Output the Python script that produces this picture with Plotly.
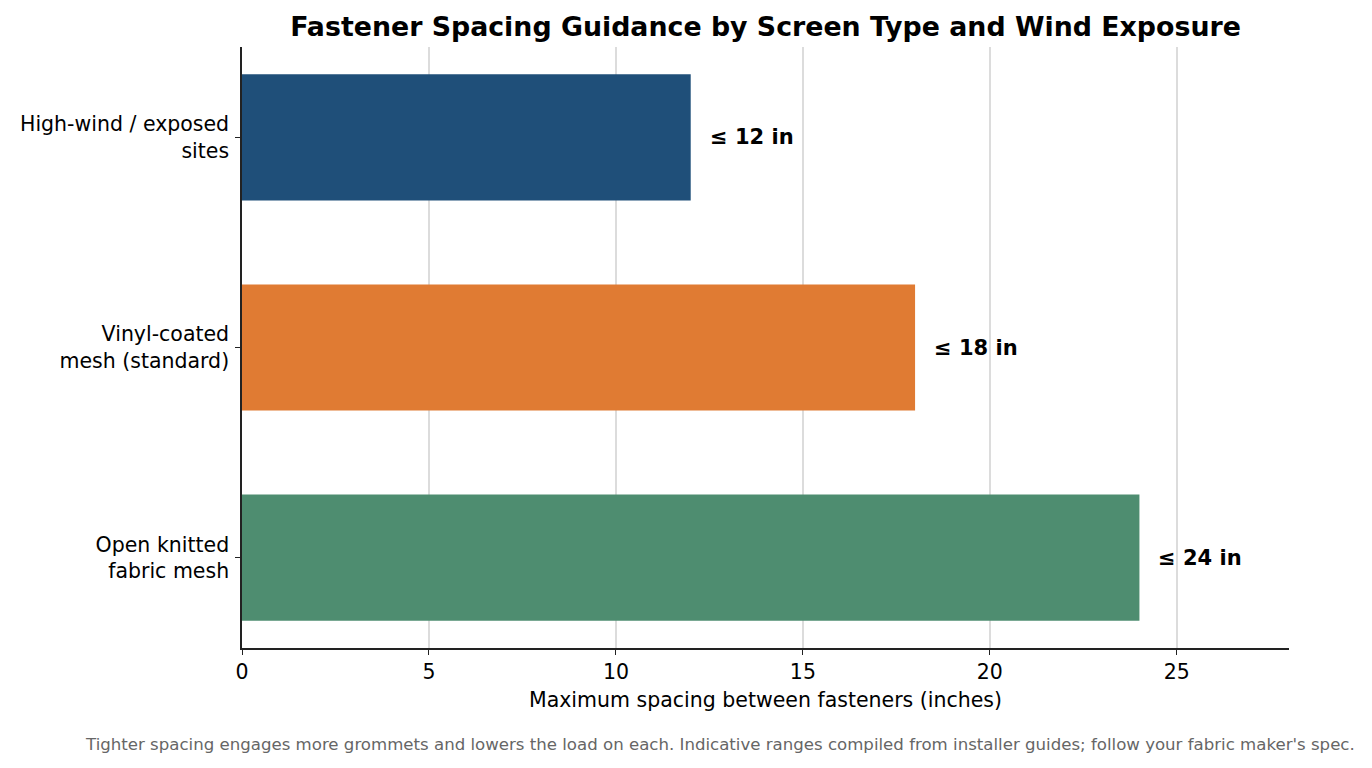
import plotly.graph_objects as go

# bottom-to-top order (plotly puts the first category at the bottom)
categories = ["Open knitted<br>fabric mesh", "Vinyl-coated<br>mesh (standard)", "High-wind / exposed<br>sites"]
spacing_in = [24, 18, 12]
labels = ["≤ 24 in", "≤ 18 in", "≤ 12 in"]
colors = ["#4e8d70", "#e07b33", "#1f4f79"]

FONT = "DejaVu Sans"

fig = go.Figure(go.Bar(
    x=spacing_in,
    y=categories,
    orientation="h",
    width=0.6,
    marker=dict(color=colors, line=dict(width=0)),
    hoverinfo="x+y",
))

for cat, val, lab in zip(categories, spacing_in, labels):
    fig.add_annotation(x=val, y=cat, text="<b>%s</b>" % lab, showarrow=False,
                       xanchor="left", xshift=17, font=dict(size=21, color="black", family=FONT))

fig.add_annotation(
    text="Tighter spacing engages more grommets and lowers the load on each. Indicative ranges compiled from installer guides; follow your fabric maker's spec.",
    xref="paper", yref="paper", x=1.065, y=-0.16, xanchor="right", yanchor="middle",
    showarrow=False, font=dict(size=16.6, color="#666666", family=FONT),
)

# page has an 8px body margin, so the figure is 16px smaller than the window
fig.update_layout(
    width=1356, height=752,
    margin=dict(l=234, r=75, t=39, b=112),
    plot_bgcolor="white", paper_bgcolor="white",
    font=dict(family=FONT, size=20.5, color="black"),
    title=dict(text="<b>Fastener Spacing Guidance by Screen Type and Wind Exposure</b>",
               x=0.5, xref="paper", xanchor="center", y=0.975, yanchor="middle",
               font=dict(size=26.8, family=FONT)),
    showlegend=False,
)
fig.update_xaxes(
    range=[0, 28], tickvals=[0, 5, 10, 15, 20, 25],
    showgrid=True, gridcolor="#dcdcdc", gridwidth=1.5,
    showline=True, linecolor="#222222", linewidth=1.5,
    ticks="outside", ticklen=5, tickcolor="#222222",
    zeroline=False,
    title=dict(text="Maximum spacing between fasteners (inches)", font=dict(size=20.5), standoff=9),
    tickfont=dict(size=20.5),
)
fig.update_yaxes(
    range=[-0.43, 2.43],
    showgrid=False, showline=True, linecolor="#222222", linewidth=1.5,
    ticks="outside", ticklen=5, tickcolor="#222222",
    ticklabelstandoff=2,
    tickfont=dict(size=20.5),
)

fig.write_html("out.html")
